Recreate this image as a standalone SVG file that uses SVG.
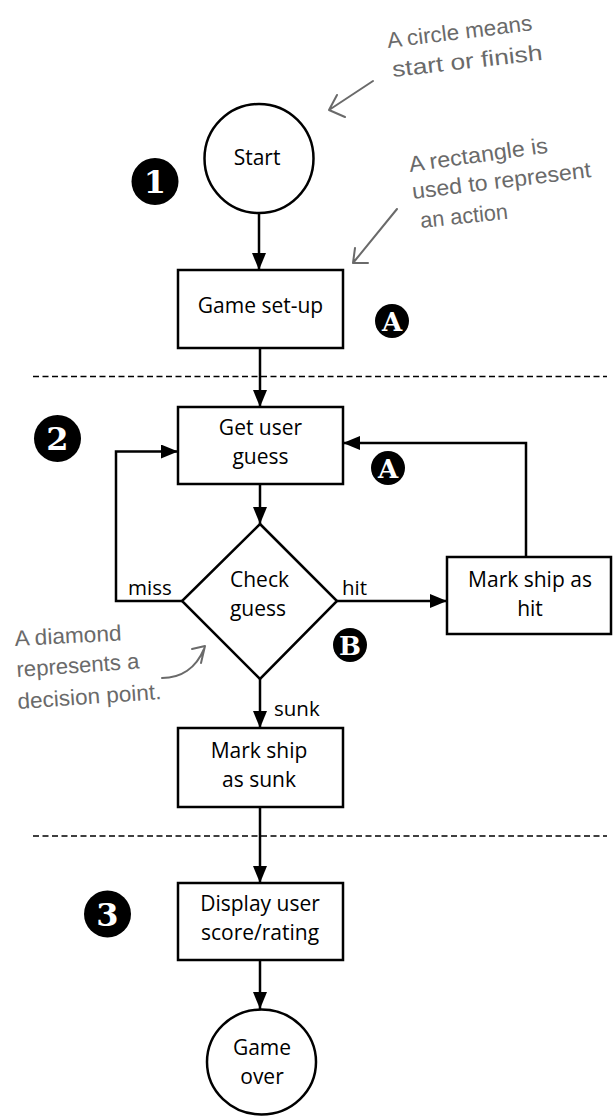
<svg xmlns="http://www.w3.org/2000/svg" width="613" height="1116" viewBox="0 0 613 1116">
  <style>
    .shape { fill: #ffffff; stroke: #000000; stroke-width: 2.5; }
    .txt { font-family: "Open Sans", "DejaVu Sans", sans-serif; font-size: 21px; fill: #000000; text-anchor: middle; }
    .lbl { font-family: "Open Sans", "DejaVu Sans", sans-serif; font-size: 20.5px; fill: #000000; }
    .conn { fill: none; stroke: #000000; stroke-width: 2.5; }
    .divider { fill: none; stroke: #000000; stroke-width: 1.6; stroke-dasharray: 6 3.5; }
    .note { font-family: "Liberation Sans", "Arial", sans-serif; font-size: 22px; fill: #6a6a6a; }
    .notearrow { fill: none; stroke: #6a6a6a; stroke-width: 2; stroke-linecap: round; stroke-linejoin: round; }
    .badge { fill: #000000; }
    .badgetxt { font-family: "DejaVu Serif", "Liberation Serif", serif; font-weight: bold; fill: #ffffff; text-anchor: middle; }
  </style>
  <defs>
    <marker id="arrow" markerUnits="userSpaceOnUse" markerWidth="18" markerHeight="14" refX="17" refY="7" orient="auto">
      <path d="M0,0 L17,7 L0,14 z" fill="#000000"/>
    </marker>
  </defs>

  <rect width="613" height="1116" fill="#ffffff"/>

  <!-- section dividers -->
  <line class="divider" x1="33" y1="376.5" x2="607" y2="376.5"/>
  <line class="divider" x1="33" y1="836" x2="607" y2="836"/>

  <!-- connectors -->
  <g id="connectors">
    <line class="conn" x1="259" y1="213" x2="259" y2="270" marker-end="url(#arrow)"/>
    <line class="conn" x1="260" y1="348" x2="260" y2="407" marker-end="url(#arrow)"/>
    <line class="conn" x1="260" y1="484" x2="260" y2="524" marker-end="url(#arrow)"/>
    <line class="conn" x1="337" y1="601" x2="447" y2="601" marker-end="url(#arrow)"/>
    <polyline class="conn" points="526,557 526,443 343,443" marker-end="url(#arrow)"/>
    <polyline class="conn" points="182,601 116,601 116,451.5 178,451.5" marker-end="url(#arrow)"/>
    <line class="conn" x1="260" y1="679" x2="260" y2="728" marker-end="url(#arrow)"/>
    <line class="conn" x1="260" y1="807" x2="260" y2="883" marker-end="url(#arrow)"/>
    <line class="conn" x1="260" y1="960" x2="260" y2="1009" marker-end="url(#arrow)"/>
    <text class="lbl" x="128" y="595">miss</text>
    <text class="lbl" x="342" y="595">hit</text>
    <text class="lbl" x="274" y="716">sunk</text>
  </g>

  <!-- nodes -->
  <g id="start">
    <circle class="shape" cx="259" cy="158.5" r="54.5"/>
    <text class="txt" x="257" y="165" font-size="22">Start</text>
  </g>
  <g id="game-setup">
    <rect class="shape" x="178" y="270" width="165" height="78"/>
    <text class="txt" x="260.5" y="313" font-size="22">Game set-up</text>
  </g>
  <g id="get-user-guess">
    <rect class="shape" x="178" y="407" width="165" height="77"/>
    <text class="txt" x="260.5" y="435">Get user<tspan x="260.5" dy="29">guess</tspan></text>
  </g>
  <g id="check-guess">
    <polygon class="shape" points="260,524 337,601 260,679 182,601"/>
    <text class="txt" x="259.5" y="586.5">Check<tspan x="258" dy="29">guess</tspan></text>
  </g>
  <g id="mark-hit">
    <rect class="shape" x="447" y="557" width="164" height="77"/>
    <text class="txt" x="530" y="586.5">Mark ship as<tspan x="530" dy="29">hit</tspan></text>
  </g>
  <g id="mark-sunk">
    <rect class="shape" x="178" y="728" width="165" height="79"/>
    <text class="txt" x="259" y="758">Mark ship<tspan x="259" dy="29">as sunk</tspan></text>
  </g>
  <g id="display-score">
    <rect class="shape" x="178" y="883" width="165" height="77"/>
    <text class="txt" x="260" y="911">Display user<tspan x="260" dy="29">score/rating</tspan></text>
  </g>
  <g id="game-over">
    <ellipse class="shape" cx="261.5" cy="1062" rx="54.5" ry="52.5"/>
    <text class="txt" x="262" y="1054.5">Game<tspan x="262" dy="29">over</tspan></text>
  </g>

  <!-- badges -->
  <g id="badge-1">
    <circle class="badge" cx="155" cy="181.5" r="23.5"/>
    <text class="badgetxt" x="155" y="193" font-size="32">1</text>
  </g>
  <g id="badge-2">
    <circle class="badge" cx="57.5" cy="438.5" r="23.5"/>
    <text class="badgetxt" x="57.5" y="450" font-size="32">2</text>
  </g>
  <g id="badge-3">
    <circle class="badge" cx="107.5" cy="914" r="23.5"/>
    <text class="badgetxt" x="107.5" y="925.5" font-size="32">3</text>
  </g>
  <g id="badge-a1">
    <circle class="badge" cx="392" cy="321" r="17"/>
    <text class="badgetxt" x="392" y="330.5" font-size="26">A</text>
  </g>
  <g id="badge-a2">
    <circle class="badge" cx="388" cy="468" r="17"/>
    <text class="badgetxt" x="388" y="477.5" font-size="26">A</text>
  </g>
  <g id="badge-b">
    <circle class="badge" cx="350" cy="645" r="17"/>
    <text class="badgetxt" x="350" y="654.5" font-size="26">B</text>
  </g>

  <!-- annotations -->
  <g id="note-circle">
    <text class="note" x="388" y="48" transform="rotate(-7 388 48)" textLength="146" lengthAdjust="spacingAndGlyphs">A circle means</text>
    <text class="note" x="393" y="77" transform="rotate(-6.5 393 77)" textLength="151" lengthAdjust="spacingAndGlyphs">start or finish</text>
    <path class="notearrow" d="M373,81 L329,110 M337,95 L329,110 L345,117"/>
  </g>
  <g id="note-rect">
    <text class="note" x="410" y="172" transform="rotate(-8 410 172)" textLength="140" lengthAdjust="spacingAndGlyphs">A rectangle is</text>
    <text class="note" x="413" y="199" transform="rotate(-7 413 199)" textLength="180" lengthAdjust="spacingAndGlyphs">used to represent</text>
    <text class="note" x="421" y="228" transform="rotate(-6 421 228)" textLength="88" lengthAdjust="spacingAndGlyphs">an action</text>
    <path class="notearrow" d="M397,209 L353,263 M355,248 L353,263 L368,263"/>
  </g>
  <g id="note-diamond">
    <text class="note" x="15" y="646" transform="rotate(-3 15 646)" textLength="107" lengthAdjust="spacingAndGlyphs">A diamond</text>
    <text class="note" x="17" y="677" transform="rotate(-4 17 677)" textLength="123" lengthAdjust="spacingAndGlyphs">represents a</text>
    <text class="note" x="18" y="709" transform="rotate(-4 18 709)" textLength="144" lengthAdjust="spacingAndGlyphs">decision point.</text>
    <path class="notearrow" d="M162,678 C181,678 196,668 204,649 M192,649 L205,646 L201,663"/>
  </g>
</svg>
